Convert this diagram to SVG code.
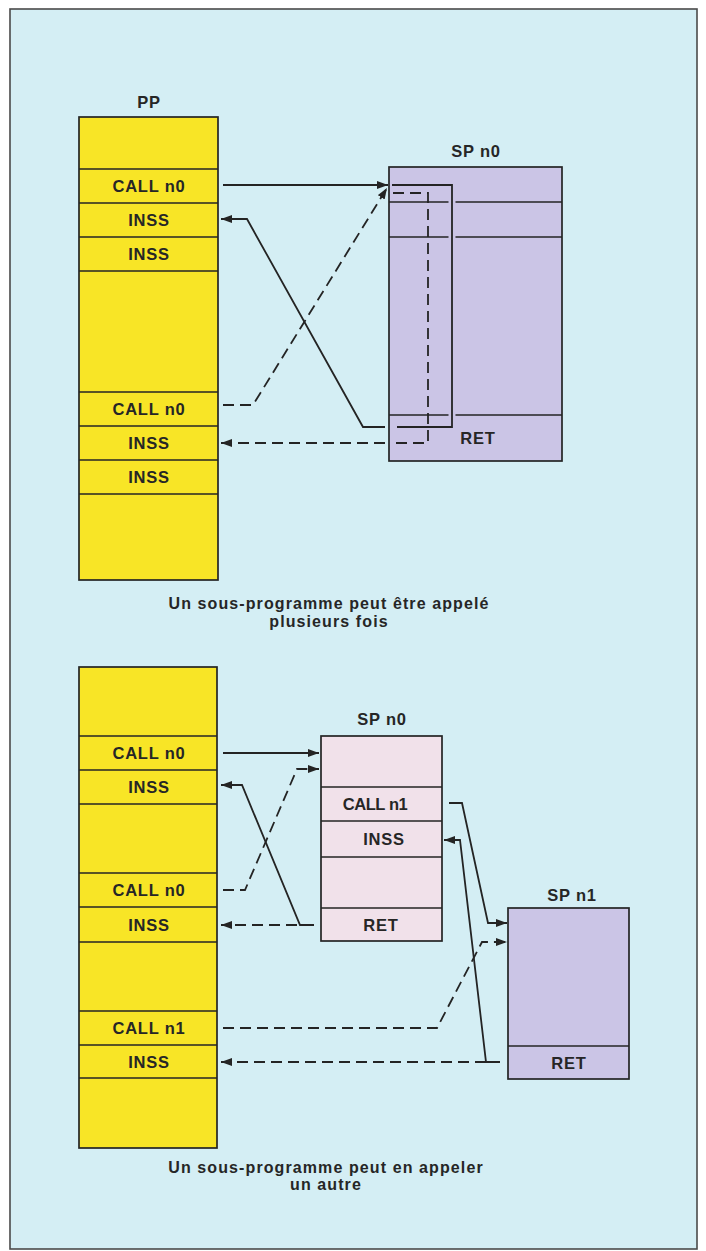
<svg xmlns="http://www.w3.org/2000/svg" width="706" height="1251" viewBox="0 0 706 1251">
<defs>
<style>
.bx{stroke:#242424;stroke-width:1.7}
.pp{fill:#f8e526}
.sp{fill:#cbc5e6}
.sq{fill:#f1e1ea}
.ln{stroke:#242424;stroke-width:1.7;fill:none}
.c{fill:none;stroke:#242424;stroke-width:1.8;stroke-linejoin:miter}
.d{stroke-dasharray:11 6}
text{font-family:"Liberation Sans",Arial,sans-serif;font-weight:bold;fill:#262626;text-anchor:middle}
.t{font-size:16.5px;letter-spacing:0.8px}
.n{letter-spacing:-0.4px}
.cap{font-size:16px;letter-spacing:1.1px}
</style>
<marker id="ah" viewBox="0 0 11 8" refX="11" refY="4" markerWidth="11" markerHeight="8" markerUnits="userSpaceOnUse" orient="auto"><path d="M0,0 L11,4 L0,8 z" fill="#242424"/></marker>
</defs>
<rect x="0" y="0" width="706" height="1251" fill="#ffffff"/>
<rect x="10" y="9" width="687" height="1240" fill="#d4eef4" stroke="#4a4a4a" stroke-width="1.6"/>

<g id="pp1">
<rect class="bx pp" x="79" y="117" width="139" height="463"/>
<path class="ln" d="M79,169H218M79,203H218M79,237H218M79,271H218M79,392H218M79,426H218M79,460H218M79,494H218"/>
<text class="t" x="149" y="108">PP</text>
<text class="t" x="149" y="192">CALL n0</text>
<text class="t" x="149" y="226">INSS</text>
<text class="t" x="149" y="260">INSS</text>
<text class="t" x="149" y="415">CALL n0</text>
<text class="t" x="149" y="449">INSS</text>
<text class="t" x="149" y="483">INSS</text>
</g>

<g id="sp0a">
<rect class="bx sp" x="389" y="167" width="173" height="294"/>
<path class="ln" d="M389,202H448.5M455.5,202H562M389,237H448.5M455.5,237H562M389,415H448.5M455.5,415H562"/>
<text class="t" x="476" y="157">SP n0</text>
<text class="t" x="478" y="444">RET</text>
</g>

<g id="cap1">
<text class="cap" x="329" y="609">Un sous-programme peut être appelé</text>
<text class="cap" x="329" y="627">plusieurs fois</text>
</g>

<g id="pp2">
<rect class="bx pp" x="79" y="667" width="138" height="481"/>
<path class="ln" d="M79,736H217M79,770H217M79,804H217M79,873H217M79,907H217M79,942H217M79,1011H217M79,1045H217M79,1078H217"/>
<text class="t" x="149" y="759">CALL n0</text>
<text class="t" x="149" y="793">INSS</text>
<text class="t" x="149" y="896">CALL n0</text>
<text class="t" x="149" y="930.5">INSS</text>
<text class="t" x="149" y="1034">CALL n1</text>
<text class="t" x="149" y="1067.5">INSS</text>
</g>

<g id="sp0b">
<rect class="bx sq" x="321" y="736" width="121" height="205"/>
<path class="ln" d="M321,787H442M321,821H442M321,857H442M321,908H442"/>
<text class="t" x="382" y="725">SP n0</text>
<text class="t n" x="375" y="810">CALL n1</text>
<text class="t" x="384" y="845">INSS</text>
<text class="t" x="381" y="930.5">RET</text>
</g>

<g id="sp1">
<rect class="bx sp" x="508" y="908" width="121" height="171"/>
<path class="ln" d="M508,1046H629"/>
<text class="t" x="572" y="901">SP n1</text>
<text class="t" x="569" y="1068.5">RET</text>
</g>

<g id="cap2">
<text class="cap" x="326" y="1173">Un sous-programme peut en appeler</text>
<text class="cap" x="326" y="1190">un autre</text>
</g>

<g id="connectors">
<path class="c" d="M223,185H388" marker-end="url(#ah)"/>
<path class="c" d="M392,185H452V427H397"/>
<path class="c" d="M385,427H363L247,219H221" marker-end="url(#ah)"/>
<path class="c d" d="M223,405H253L387,188" marker-end="url(#ah)"/>
<path class="c d" d="M393,193H428V443H395"/>
<path class="c d" d="M385,443H221" marker-end="url(#ah)"/>

<path class="c" d="M223,753H319" marker-end="url(#ah)"/>
<path class="c d" d="M223,890H245L297,769H319" marker-end="url(#ah)"/>
<path class="c" d="M314,925H300L242,785H221" marker-end="url(#ah)"/>
<path class="c d" d="M314,925H221" marker-end="url(#ah)"/>

<path class="c" d="M449,803H462L488,923H507" marker-end="url(#ah)"/>
<path class="c" d="M500,1062H486L460,840H444" marker-end="url(#ah)"/>
<path class="c d" d="M223,1028H437L482,942H507" marker-end="url(#ah)"/>
<path class="c d" d="M486,1062H221" marker-end="url(#ah)"/>
</g>
</svg>
